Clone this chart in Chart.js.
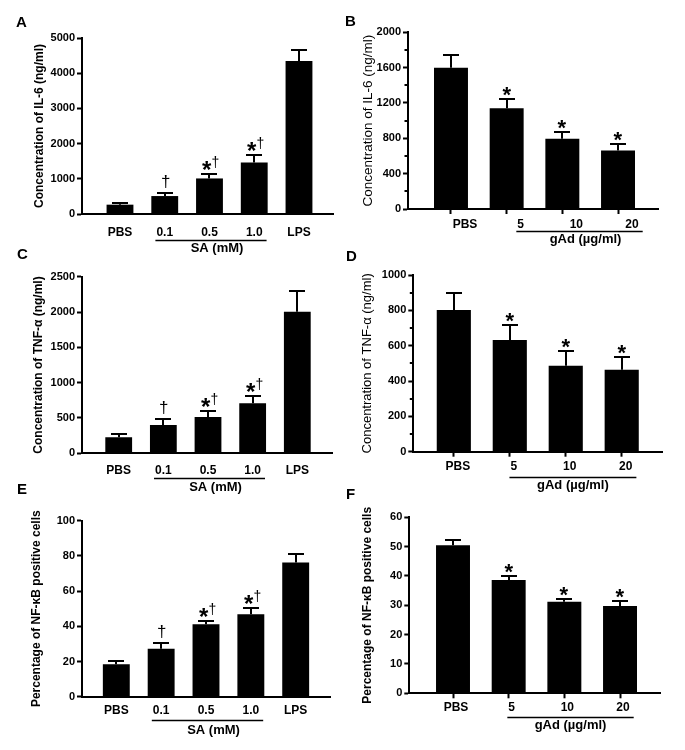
<!DOCTYPE html>
<html lang="en">
<head>
<meta charset="UTF-8" />
<title>IL-6, TNF-α and NF-κB</title>
<script src="https://cdn.jsdelivr.net/npm/chart.js@4.4.1/dist/chart.umd.min.js"></script>
<style>
  body { margin: 0; background: #fff; }
  #fig { position: relative; width: 685px; height: 750px; }
  #fig canvas { position: absolute; }
  .letter { position: absolute; font: bold 15px 'Liberation Sans', Arial, sans-serif; line-height: 15px; color: #000; z-index: 2; }
</style>
</head>
<body>
<div id="fig">
  <div class="letter" style="left:16px;top:14px">A</div>
  <div class="letter" style="left:345px;top:13px">B</div>
  <div class="letter" style="left:17px;top:246px">C</div>
  <div class="letter" style="left:346px;top:248px">D</div>
  <div class="letter" style="left:17px;top:481px">E</div>
  <div class="letter" style="left:346px;top:486px">F</div>
</div>
<script>
// ---- data ----
const saLabels = ['PBS', '0.1', '0.5', '1.0', 'LPS'];
const gadLabels = ['PBS', '5', '10', '20'];
const saMarks = ['', '†', '*†', '*†', ''];
const gadMarks = ['', '*', '*', '*'];

// A: IL-6, SA
const il6SA = [265, 510, 1010, 1465, 4350];
const il6SAErr = [55, 75, 115, 225, 320];
// B: IL-6, gAd
const il6Gad = [1600, 1140, 795, 662];
const il6GadErr = [140, 105, 80, 70];
// C: TNF-a, SA
const tnfSA = [226, 401, 514, 710, 2005];
const tnfSAErr = [43, 80, 90, 100, 292];
// D: TNF-a, gAd
const tnfGad = [802, 632, 487, 464];
const tnfGadErr = [98, 85, 85, 74];
// E: NF-kB, SA
const nfkbSA = [18.4, 27.3, 41.1, 46.8, 76.3];
const nfkbSAErr = [1.7, 3.0, 1.7, 3.8, 4.6];
// F: NF-kB, gAd
const nfkbGad = [50.5, 38.6, 31.2, 29.8];
const nfkbGadErr = [1.8, 1.4, 1.0, 1.8];

const FONT = "'Liberation Sans', Arial, Helvetica, sans-serif";

// panel layout: box = canvas [left, top, w, h], area = plot [left, top, right, bottom]
const panels = [
  { box: [0, 0, 340, 258], area: [82, 38, 333, 214], xRange: [-0.849, 4.76],
    labels: saLabels, values: il6SA, errors: il6SAErr, marks: saMarks,
    yMax: 5000, yStep: 1000, minor: 0, yTitle: 'Concentration of IL-6 (ng/ml)', bold: true, tSize: 12, titleX: 40,
    xTicks: false, labelPad: 11, labelOffset: 0, group: 'SA (mM)', ulY: 26, glY: 34, glShift: 6, barPct: 0.6 },
  { box: [340, 0, 345, 258], area: [408, 32.3, 658, 209], xRange: [-0.772, 3.718],
    labels: gadLabels, values: il6Gad, errors: il6GadErr, marks: gadMarks,
    yMax: 2000, yStep: 400, minor: 200, yTitle: 'Concentration of IL-6 (ng/ml)', bold: false, tSize: 13.5, titleX: 368,
    xTicks: true, labelPad: 3, labelOffset: 14, group: 'gAd (µg/ml)', ulY: 21.7, glY: 30.7, glShift: 6, barPct: 0.61 },
  { box: [0, 250, 340, 250], area: [82, 276.7, 332, 453.3], xRange: [-0.822, 4.777],
    labels: saLabels, values: tnfSA, errors: tnfSAErr, marks: saMarks,
    yMax: 2500, yStep: 500, minor: 0, yTitle: 'Concentration of TNF-α (ng/ml)', bold: true, tSize: 12, titleX: 39,
    xTicks: false, labelPad: 10, labelOffset: 0, group: 'SA (mM)', ulY: 25, glY: 34.2, glShift: 6, barPct: 0.6 },
  { box: [340, 250, 345, 250], area: [413.3, 275, 662, 451.7], xRange: [-0.724, 3.72],
    labels: gadLabels, values: tnfGad, errors: tnfGadErr, marks: gadMarks,
    yMax: 1000, yStep: 200, minor: 100, yTitle: 'Concentration of TNF-α (ng/ml)', bold: false, tSize: 13, titleX: 367,
    xTicks: true, labelPad: 3, labelOffset: 4, group: 'gAd (µg/ml)', ulY: 25, glY: 34, glShift: 0, barPct: 0.61 },
  { box: [0, 490, 340, 260], area: [82, 520.7, 330, 696.7], xRange: [-0.765, 4.765],
    labels: saLabels, values: nfkbSA, errors: nfkbSAErr, marks: saMarks,
    yMax: 100, yStep: 20, minor: 0, yTitle: 'Percentage of NF-κB positive cells', bold: true, tSize: 12, titleX: 37,
    xTicks: false, labelPad: 7, labelOffset: 0, group: 'SA (mM)', ulY: 23.3, glY: 33.3, glShift: 6, barPct: 0.6 },
  { box: [340, 490, 345, 260], area: [409.3, 517.3, 660, 693.3], xRange: [-0.785, 3.718],
    labels: gadLabels, values: nfkbGad, errors: nfkbGadErr, marks: gadMarks,
    yMax: 60, yStep: 10, minor: 0, yTitle: 'Percentage of NF-κB positive cells', bold: true, tSize: 12, titleX: 368,
    xTicks: true, labelPad: 2.3, labelOffset: 3, group: 'gAd (µg/ml)', ulY: 23.4, glY: 32.2, glShift: 0, barPct: 0.61 }
];

// draw a glyph with its visual centre at cx and its visual bottom at by
function glyph(ctx, ch, font, cx, by) {
  ctx.font = font;
  const m = ctx.measureText(ch);
  const x = cx - (m.actualBoundingBoxRight - m.actualBoundingBoxLeft) / 2;
  ctx.fillText(ch, x, by - m.actualBoundingBoxDescent);
}

// error bars, significance marks, minor ticks, group underline + label
function decor(p) {
  return {
    id: 'decor',
    afterDraw(chart) {
      const ctx = chart.ctx, xs = chart.scales.x, ys = chart.scales.y;
      const base = ys.getPixelForValue(0);
      ctx.save();
      ctx.strokeStyle = '#000';
      ctx.fillStyle = '#000';
      ctx.textAlign = 'left';
      ctx.textBaseline = 'alphabetic';
      p.values.forEach((v, i) => {
        const px = Math.round(xs.getPixelForValue(i));
        const y0 = ys.getPixelForValue(v);
        const y1 = Math.round(ys.getPixelForValue(v + p.errors[i]));
        ctx.lineWidth = 2;
        ctx.beginPath();
        ctx.moveTo(px, y0);
        ctx.lineTo(px, y1);
        ctx.moveTo(px - 8, y1);
        ctx.lineTo(px + 8, y1);
        ctx.stroke();
        const mk = p.marks[i];
        if (mk === '†') {
          glyph(ctx, '†', '17px ' + FONT, px + 1, y1 - 5);
        } else if (mk === '*') {
          glyph(ctx, '*', 'bold 22px ' + FONT, px, y1 - 3);
        } else if (mk === '*†') {
          glyph(ctx, '*', 'bold 24px ' + FONT, px - 2, y1 - 4);
          glyph(ctx, '†', '14px ' + FONT, px + 6, y1 - 6);
        }
      });
      // minor ticks on the y axis
      if (p.minor) {
        ctx.lineWidth = 2;
        ctx.beginPath();
        for (let v = p.minor; v < p.yMax; v += p.yStep) {
          const py = Math.round(ys.getPixelForValue(v));
          ctx.moveTo(ys.right - 3.5, py);
          ctx.lineTo(ys.right, py);
        }
        ctx.stroke();
      }
      // group underline under dose labels
      ctx.font = 'bold 12px ' + FONT;
      const first = 1, last = p.labels.length - (p.labels.length === 5 ? 2 : 1);
      const w0 = ctx.measureText(p.labels[first]).width;
      const w1 = ctx.measureText(p.labels[last]).width;
      const left = xs.getPixelForValue(first) + p.labelOffset - w0 / 2 - 1;
      const right = xs.getPixelForValue(last) + p.labelOffset + w1 / 2 + 4;
      const uy = Math.round(base + p.ulY) + 0.5;
      ctx.lineWidth = 1.5;
      ctx.beginPath();
      ctx.moveTo(left, uy);
      ctx.lineTo(right, uy);
      ctx.stroke();
      ctx.font = 'bold 13px ' + FONT;
      ctx.textAlign = 'center';
      ctx.textBaseline = 'middle';
      ctx.fillText(p.group, (left + right) / 2 + p.glShift, base + p.glY);
      ctx.restore();
    }
  };
}

const fig = document.getElementById('fig');
panels.forEach(p => {
  const [bl, bt, bw, bh] = p.box;
  const [al, at, ar, ab] = p.area;
  const cv = document.createElement('canvas');
  cv.width = bw;
  cv.height = bh;
  cv.style.left = bl + 'px';
  cv.style.top = bt + 'px';
  fig.appendChild(cv);

  new Chart(cv, {
    type: 'bar',
    data: {
      datasets: [{
        data: p.values.map((v, i) => ({ x: i, y: v })),
        backgroundColor: '#000',
        borderWidth: 0,
        barPercentage: p.barPct,
        categoryPercentage: 1
      }]
    },
    options: {
      responsive: false,
      animation: false,
      devicePixelRatio: 1,
      layout: { padding: { top: at - bt, right: bl + bw - ar, left: 0, bottom: 0 } },
      plugins: { legend: { display: false }, tooltip: { enabled: false } },
      scales: {
        x: {
          type: 'linear',
          min: p.xRange[0],
          max: p.xRange[1],
          offset: false,
          afterBuildTicks: s => { s.ticks = p.labels.map((_, i) => ({ value: i })); },
          afterFit: s => { s.height = bt + bh - ab; },
          grid: { display: p.xTicks, drawTicks: p.xTicks, drawOnChartArea: false, offset: false, color: '#000', tickLength: 5, tickWidth: 2 },
          border: { display: true, color: '#000', width: 2 },
          ticks: {
            autoSkip: false, maxRotation: 0, padding: p.labelPad, labelOffset: p.labelOffset, color: '#000',
            font: { family: FONT, size: 12, weight: 'bold' },
            callback: v => p.labels[v]
          }
        },
        y: {
          min: 0,
          max: p.yMax,
          afterFit: s => { s.width = al - bl; },
          grid: { drawOnChartArea: false, color: '#000', tickLength: 5, tickWidth: 2 },
          border: { display: true, color: '#000', width: 2 },
          ticks: {
            stepSize: p.yStep, padding: 2, color: '#000',
            font: { family: FONT, size: 11, weight: 'bold' },
            callback: v => String(v)
          },
          title: {
            display: true, text: p.yTitle, color: '#000',
            font: { family: FONT, size: p.tSize, weight: p.bold ? 'bold' : 'normal' },
            padding: { top: p.titleX - bl - p.tSize * 0.6, bottom: 0 }
          }
        }
      }
    },
    plugins: [decor(p)]
  });
});
</script>
</body>
</html>
